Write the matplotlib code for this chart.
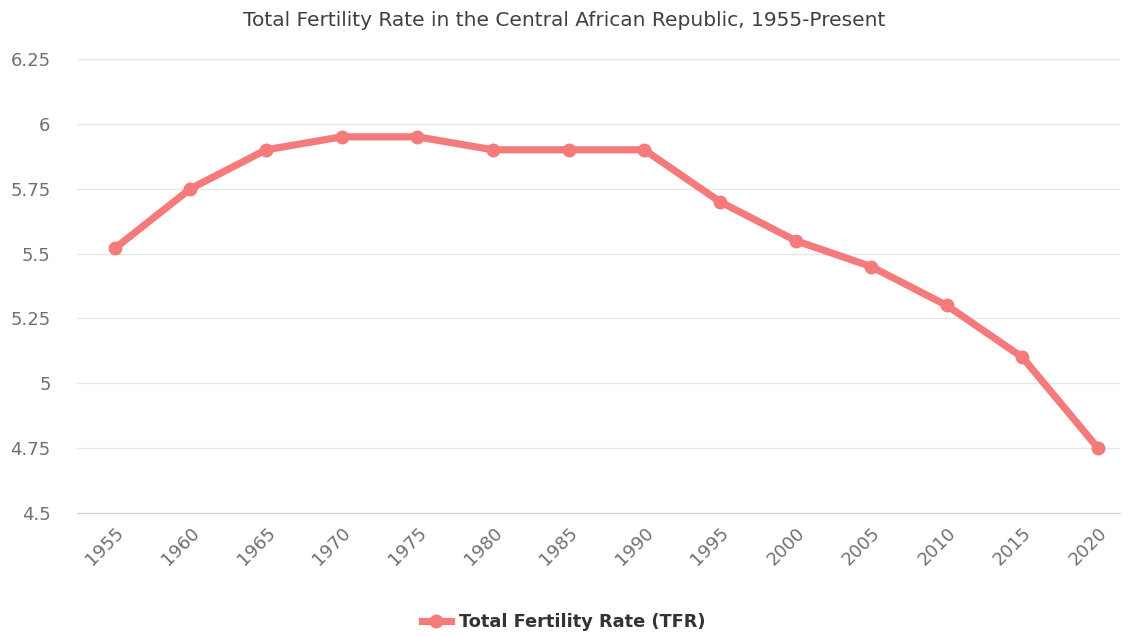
import numpy as np
import matplotlib.pyplot as plt
from matplotlib.lines import Line2D

years = ['1955', '1960', '1965', '1970', '1975', '1980', '1985',
         '1990', '1995', '2000', '2005', '2010', '2015', '2020']
tfr = [5.52, 5.75, 5.90, 5.95, 5.95, 5.90, 5.90,
       5.90, 5.70, 5.55, 5.45, 5.30, 5.10, 4.75]
yticks = [4.5, 4.75, 5, 5.25, 5.5, 5.75, 6, 6.25]
ylabels = ['4.5', '4.75', '5', '5.25', '5.5', '5.75', '6', '6.25']

line_color = '#f47a7c'

fig = plt.figure(figsize=(11.28, 6.37), dpi=100)
ax = fig.add_axes([77/1128, 1 - 513/637, (1120-77)/1128, (513-59)/637])

x = np.arange(len(years))
ax.plot(x, tfr, color=line_color, lw=5.2, marker='o', markersize=9,
        solid_capstyle='round', solid_joinstyle='round', zorder=3)

ax.set_xlim(-0.5, 13.29)
ax.set_ylim(4.5, 6.25)
ax.set_yticks(yticks)
ax.set_yticklabels(ylabels)
ax.set_xticks(x)
ax.set_xticklabels(years, rotation=45, ha='right', rotation_mode='anchor')

ax.grid(axis='y', color='#e6e6e6', lw=1)
ax.set_axisbelow(True)
for s in ['top', 'right', 'left']:
    ax.spines[s].set_visible(False)
ax.spines['bottom'].set_color('#cccccc')
ax.tick_params(axis='both', length=0, colors='#707070', labelsize=13)
ax.tick_params(axis='y', pad=19)
ax.tick_params(axis='x', pad=8)

fig.text(0.5, 1 - 20/637, 'Total Fertility Rate in the Central African Republic, 1955-Present',
         ha='center', va='center', fontsize=14.5, color='#404040')

handle = Line2D([], [], color=line_color, lw=5.2, marker='o', markersize=9)
fig.legend([handle], ['Total Fertility Rate (TFR)'], loc='center',
           bbox_to_anchor=(0.5, 1 - 622/637), frameon=False,
           prop={'weight': 'bold', 'size': 12.8}, labelcolor='#333333',
           handlelength=1.6, handletextpad=0.5)

fig.savefig('out.png', dpi=100)
